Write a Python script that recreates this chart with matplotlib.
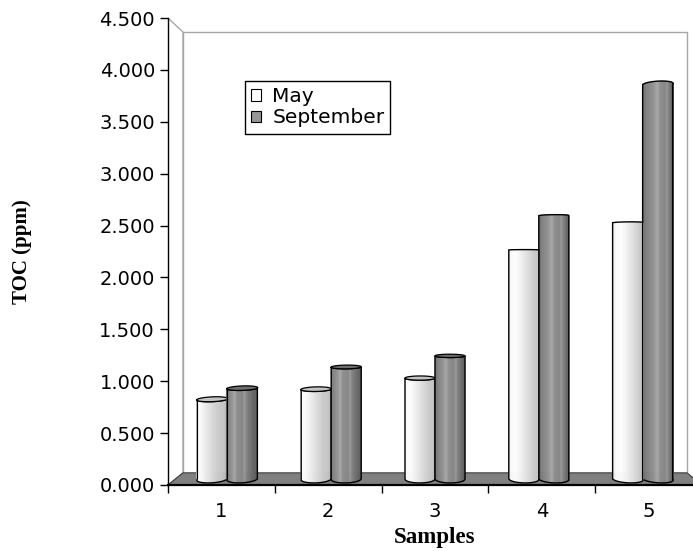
import numpy as np
import matplotlib
matplotlib.use("Agg")
import matplotlib.pyplot as plt
from matplotlib.patches import Polygon, Patch

# ---- data ----
samples = ["1", "2", "3", "4", "5"]
series_names = ["May", "September"]
may_toc = [0.79, 0.89, 1.00, 2.27, 2.54]
sep_toc = [0.90, 1.11, 1.22, 2.61, 3.91]
y_ticks = [0.0, 0.5, 1.0, 1.5, 2.0, 2.5, 3.0, 3.5, 4.0, 4.5]

# ---- 3-D look: simple perspective toward a vanishing centre ----
PERSP = 0.056          # shrink of the back plane
CX, CY = 3.0, 2.09     # vanishing centre in data units
BAR_DEPTH = 0.5        # bars stand half-way into the box
R_X = 0.1445           # cylinder radius along x (category units)
R_D = 0.33             # cylinder radius along depth (box depth units)


def proj(x, y, d):
    k = 1.0 - PERSP * d
    return CX + (np.asarray(x) - CX) * k, CY + (np.asarray(y) - CY) * k


plt.rcParams["font.family"] = ["DejaVu Sans"]
fig = plt.figure(figsize=(6.93, 5.51), dpi=100)
ax = fig.add_axes([168 / 693, (551 - 485) / 551, 534 / 693, 467 / 551])
ax.set_xlim(0.5, 5.5)
ax.set_ylim(0, 4.5)

x0, x1 = 0.5, 5.5
y0, y1 = 0.0, 4.5

# back wall
bw = [proj(x0, y0, 1), proj(x1, y0, 1), proj(x1, y1, 1), proj(x0, y1, 1)]
ax.add_patch(Polygon(bw, closed=True, facecolor="white", edgecolor="#a6a6a6",
                     linewidth=1.0, zorder=1))
# left side wall
lw_ = [proj(x0, y0, 0), proj(x0, y0, 1), proj(x0, y1, 1), proj(x0, y1, 0)]
ax.add_patch(Polygon(lw_, closed=True, facecolor="white", edgecolor="#a6a6a6",
                     linewidth=1.0, zorder=1.1))
# floor
fl = [proj(x0, y0, 0), proj(x1, y0, 0), proj(x1, y0, 1), proj(x0, y0, 1)]
ax.add_patch(Polygon(fl, closed=True, facecolor="#808080", edgecolor="#404040",
                     linewidth=0.8, zorder=1.2))

# shading profiles across a cylinder (fraction of width -> grey level)
MAY_U = [0.0, 0.06, 0.2, 0.35, 0.5, 0.65, 0.8, 0.92, 1.0]
MAY_G = [0.90, 0.98, 0.99, 0.95, 0.90, 0.85, 0.80, 0.78, 0.72]
SEP_U = [0.0, 0.08, 0.25, 0.33, 0.38, 0.45, 0.62, 0.70, 0.74, 0.85, 1.0]
SEP_G = [0.42, 0.50, 0.57, 0.63, 0.66, 0.56, 0.53, 0.60, 0.52, 0.45, 0.36]


def cylinder(xc, value, prof_u, prof_g, cap_color, z):
    n = 48
    u = np.linspace(0, 1, n + 1)
    th = 2 * np.pi - np.arccos(np.clip(2 * u - 1, -1, 1))
    xs = xc + R_X * np.cos(th)
    ds = BAR_DEPTH + R_D * np.sin(th)
    bx, by = proj(xs, np.zeros_like(xs), ds)
    tx, ty = proj(xs, np.full_like(xs, value), ds)
    um = 0.5 * (u[:-1] + u[1:])
    greys = np.interp(um, prof_u, prof_g)
    for j in range(n):
        pts = [(bx[j], by[j]), (bx[j + 1], by[j + 1]),
               (tx[j + 1], ty[j + 1]), (tx[j], ty[j])]
        c = (greys[j],) * 3
        ax.add_patch(Polygon(pts, closed=True, facecolor=c, edgecolor=c,
                             linewidth=0.4, zorder=z))
    outline = list(zip(bx, by)) + list(zip(tx[::-1], ty[::-1]))
    ax.add_patch(Polygon(outline, closed=True, fill=False, edgecolor="black",
                         linewidth=1.0, zorder=z + 0.01))
    if value < CY:
        t = np.linspace(0, 2 * np.pi, 80)
        cx_, cy_ = proj(xc + R_X * np.cos(t), np.full_like(t, value),
                        BAR_DEPTH + R_D * np.sin(t))
        ax.add_patch(Polygon(list(zip(cx_, cy_)), closed=True,
                             facecolor=cap_color, edgecolor="black",
                             linewidth=0.9, zorder=z + 0.02))


positions = np.arange(1, len(samples) + 1)
for i, pos in enumerate(positions):
    pairs = [(pos - R_X, may_toc[i], MAY_U, MAY_G, "#c4c4c4"),
             (pos + R_X, sep_toc[i], SEP_U, SEP_G, "#6e6e6e")]
    if pos > CX:
        pairs = pairs[::-1]
    for k, (xc, v, pu, pg, cc) in enumerate(pairs):
        cylinder(xc, v, pu, pg, cc, 3 + 0.1 * k + 0.01 * i)

# ---- axes decoration ----
for s in ("top", "right"):
    ax.spines[s].set_visible(False)
ax.spines["left"].set_linewidth(1.0)
ax.spines["bottom"].set_linewidth(1.6)
ax.spines["left"].set_zorder(2.5)
ax.spines["bottom"].set_zorder(2.5)

ax.set_yticks(y_ticks)
ax.set_yticklabels([f"{v:.3f}" for v in y_ticks])
ax.tick_params(axis="y", direction="out", length=5.8, width=1.0, pad=3.6,
               labelsize=14)

ax.set_xticks(np.arange(0.5, len(samples) + 1, 1.0))
ax.set_xticklabels([])
ax.set_xticks(positions, minor=True)
ax.set_xticklabels(samples, minor=True)
ax.tick_params(axis="x", which="major", direction="out", length=5.8, width=1.0)
ax.tick_params(axis="x", which="minor", length=0, pad=12, labelsize=14)

ax.set_xlabel("Samples", fontsize=16.5, fontweight="bold",
              family="Liberation Serif")
ax.xaxis.set_label_coords(0.5, -0.09)
ax.set_ylabel("TOC (ppm)", fontsize=15, fontweight="bold",
              family="Liberation Serif")
ax.yaxis.set_label_coords(-0.255, 0.5)

handles = [Patch(facecolor="white", edgecolor="black", linewidth=0.8),
           Patch(facecolor="#969696", edgecolor="black", linewidth=0.8)]
leg = ax.legend(handles, series_names, loc="upper left",
                bbox_to_anchor=(245 / 693, 1 - 81 / 551),
                bbox_transform=fig.transFigure, fontsize=14.5,
                frameon=True, fancybox=False, framealpha=1,
                edgecolor="black", borderpad=0.3, borderaxespad=0,
                handlelength=0.5, handleheight=0.5, handletextpad=0.55,
                labelspacing=0.12)
leg.get_frame().set_linewidth(1.0)
leg.set_zorder(10)

fig.savefig("out.png", dpi=100)
